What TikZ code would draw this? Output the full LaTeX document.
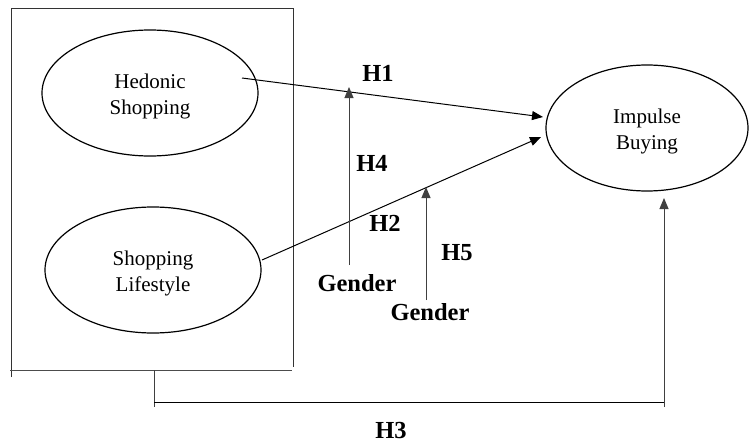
\documentclass[tikz,border=0pt]{standalone}
\usepackage{fontspec}
\setmainfont{Liberation Serif}
\usetikzlibrary{arrows.meta,shapes.geometric}
\begin{document}
\begin{tikzpicture}[x=1pt,y=-1pt,
  line width=1pt,
  construct/.style={draw,ellipse,line width=1.2pt,inner sep=0pt},
  ctext/.style={align=center,inner sep=0pt,font=\fontsize{21}{25.5}\selectfont},
  hlabel/.style={font=\fontsize{24.5}{29}\selectfont\bfseries,inner sep=0pt},
  link/.style={-{Triangle[length=11pt,width=9pt]}},
  modline/.style={black!75,-{Triangle[length=11pt,width=9pt]}}]
\useasboundingbox (0,0) rectangle (753,442);
% constructs
\node[construct,minimum width=216pt,minimum height=126pt] (hed) at (150,93) {};
\node[ctext] (hedt) at ([yshift=-3.5pt]hed.center) {Hedonic\\Shopping};
\node[construct,minimum width=216pt,minimum height=126pt] (life) at (153,270) {};
\node[ctext] (lifet) at ([yshift=-3.5pt]life.center) {Shopping\\Lifestyle};
\node[construct,minimum width=202pt,minimum height=126pt] (imp) at (647,128) {};
\node[ctext] (impt) at ([yshift=-3.5pt]imp.center) {Impulse\\Buying};
% grouping box
\coordinate (bTL) at (11,8);
\coordinate (bTR) at (293,8);
\coordinate (bRB) at (293,367);
\coordinate (bLB) at (11,377);
\coordinate (bBL) at (10,370);
\coordinate (bBR) at (292,370);
\draw[black!80] (bLB) -- (bTL) -- (bTR) -- (bRB);
\draw[black!70] (bBL) -- (bBR);
% H1 and H2 paths
\coordinate (h1s) at (242,78);
\coordinate (h1e) at (543,117);
\coordinate (h2s) at (262,260);
\coordinate (h2e) at (541,137);
\draw[link] (h1s) -- (h1e);
\draw[link] (h2s) -- (h2e);
% moderators
\node[hlabel] (g1) at (357,283) {Gender};
\node[hlabel] (g2) at (430,312) {Gender};
\coordinate (m1s) at (349,265);
\coordinate (m1e) at (349,87);
\coordinate (m2s) at (426,300);
\coordinate (m2e) at (426,187);
\draw[modline] (m1s) -- (m1e);
\draw[modline] (m2s) -- (m2e);
% H3 bracket
\coordinate (c1) at (154,370);
\coordinate (c2) at (154,407);
\coordinate (c3) at (154,402);
\coordinate (c4) at (664,402);
\coordinate (c5) at (664,407);
\coordinate (c6) at (664,198);
\draw[black!75] (c1) -- (c2);
\draw (c3) -- (c4);
\draw[modline] (c5) -- (c6);
% labels
\node[hlabel] (H1) at (378,73) {H1};
\node[hlabel] (H4) at (372,163) {H4};
\node[hlabel] (H2) at (385,223) {H2};
\node[hlabel] (H5) at (457,253) {H5};
\node[hlabel] (H3) at (391,430.5) {H3};
\end{tikzpicture}
\end{document}
